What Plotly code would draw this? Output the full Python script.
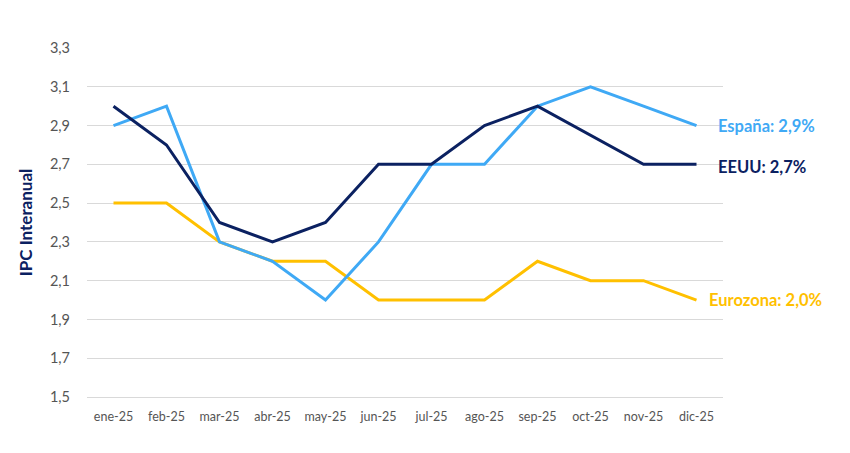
import plotly.graph_objects as go

months = ["ene-25", "feb-25", "mar-25", "abr-25", "may-25", "jun-25",
          "jul-25", "ago-25", "sep-25", "oct-25", "nov-25", "dic-25"]
espana = [2.9, 3.0, 2.3, 2.2, 2.0, 2.3, 2.7, 2.7, 3.0, 3.1, 3.0, 2.9]
eeuu = [3.0, 2.8, 2.4, 2.3, 2.4, 2.7, 2.7, 2.9, 3.0, 2.85, 2.7, 2.7]
eurozona = [2.5, 2.5, 2.3, 2.2, 2.2, 2.0, 2.0, 2.0, 2.2, 2.1, 2.1, 2.0]
y_ticks = [1.5, 1.7, 1.9, 2.1, 2.3, 2.5, 2.7, 2.9, 3.1, 3.3]

series = [
    ("Eurozona", eurozona, "#FFC000", "Eurozona: 2,0%", 10, 0),
    ("España", espana, "#3FA9F5", "España: 2,9%", 19, 0),
    ("EEUU", eeuu, "#0B2161", "EEUU: 2,7%", 19, -3),
]

FONT = "Lato"
fig = go.Figure()
for name, vals, color, label, xs, ys in series:
    fig.add_trace(go.Scatter(x=months, y=vals, mode="lines", name=name,
                             line=dict(color=color, width=3), hoverinfo="skip"))
    fig.add_annotation(x=months[-1], y=vals[-1], text="<b>%s</b>" % label,
                       showarrow=False, xanchor="left", yanchor="middle",
                       xshift=xs, yshift=ys,
                       font=dict(family=FONT, size=16.5, color=color))

fig.update_layout(
    width=850, height=453,
    margin=dict(l=87, r=127, t=48, b=56),
    paper_bgcolor="white", plot_bgcolor="white",
    separators=",.",
    showlegend=False,
    font=dict(family=FONT),
    xaxis=dict(type="category", range=[-0.5, 11.5], showgrid=False,
               showline=True, linecolor="#D9D9D9", linewidth=1,
               tickfont=dict(family=FONT, size=12.5, color="#555555"),
               ticks="", ticklabelstandoff=8, fixedrange=True),
    yaxis=dict(range=[1.5, 3.3], tickvals=y_ticks, tickformat=".1f",
               showgrid=True, gridcolor="#D9D9D9", gridwidth=1,
               zeroline=False, showline=False,
               tickfont=dict(family=FONT, size=14.5, color="#555555"),
               ticks="", ticklabelstandoff=16,
               title=dict(text="<b>IPC Interanual</b>", standoff=12,
                          font=dict(family=FONT, size=17, color="#0B2161"))),
)

fig.write_html("out.html")
